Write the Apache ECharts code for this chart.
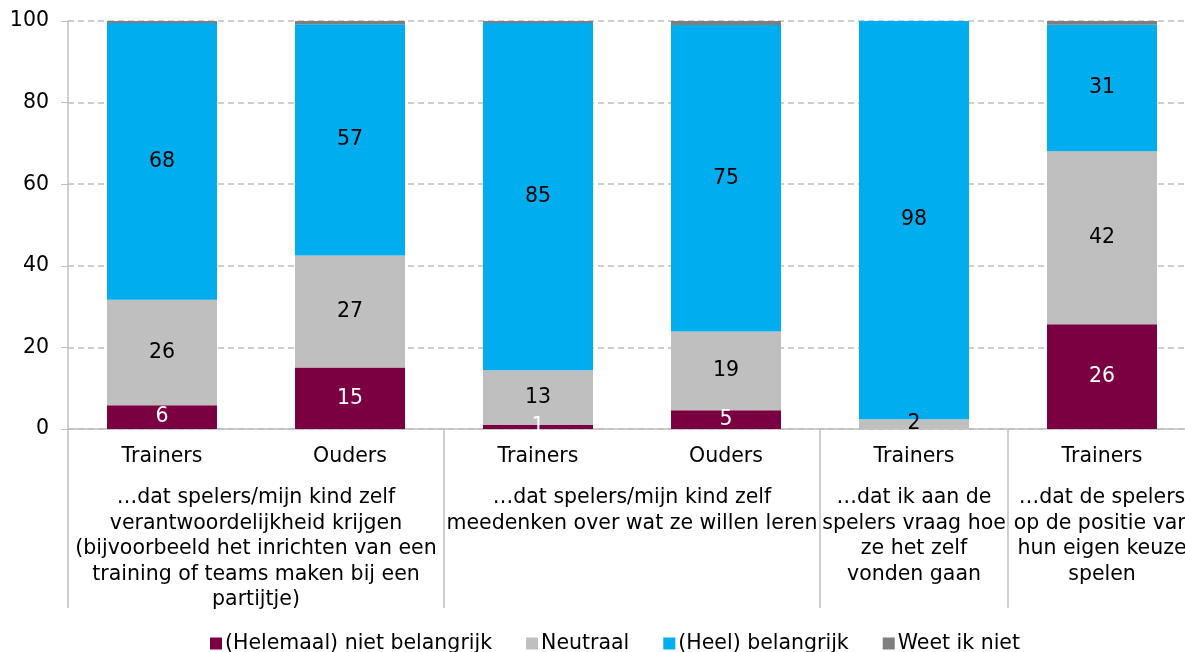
<!DOCTYPE html>
<html>
<head>
<meta charset="utf-8">
<script src="https://cdn.jsdelivr.net/npm/echarts@6/dist/echarts.min.js"></script>
<style>
  html, body { margin: 0; padding: 0; background: #fff; overflow: hidden; }
  /* de grafiek loopt rechts iets buiten beeld, net als het origineel */
  #chart { width: 1196px; height: 652px; }
</style>
</head>
<body>
<div id="chart"></div>
<script>
// categorieen (eerste niveau)
const respondents = ['Trainers', 'Ouders', 'Trainers', 'Ouders', 'Trainers', 'Trainers']
// groepen (tweede niveau) en het aantal balken per groep
const groupLabels = [
  '…dat spelers/mijn kind zelf\nverantwoordelijkheid krijgen\n(bijvoorbeeld het inrichten van een\ntraining of teams maken bij een\npartijtje)',
  '…dat spelers/mijn kind zelf\nmeedenken over wat ze willen leren',
  '…dat ik aan de\nspelers vraag hoe\nze het zelf\nvonden gaan',
  '…dat de spelers\nop de positie van\nhun eigen keuze\nspelen'
]
const groupSpans = [2, 2, 1, 1]
const yTicks = [0, 20, 40, 60, 80, 100]

// percentages per antwoord
const nietBelangrijk = [5.8, 15.1, 1.0, 4.6, 0, 25.7]
const neutraal = [25.9, 27.4, 13.4, 19.3, 2.4, 42.4]
const belangrijk = [67.8, 56.7, 85.1, 75.1, 97.6, 31.0]
const weetNiet = [0.5, 0.8, 0.5, 1.0, 0, 0.9]

const FONT = 'DejaVu Sans'
const FS = 20.5

// grenzen en middens van de groepen op de hulp-as
let groupEdges = [0]
let groupCenters = []
groupSpans.forEach(s => {
  let start = groupEdges[groupEdges.length - 1]
  groupCenters.push(start + s / 2)
  groupEdges.push(start + s)
})

function roundLabel (p) {
  let v = Math.round(p.value)
  return v === 0 ? '' : String(v)
}

function barSeries (name, data, color, labelColor, showLabel) {
  return {
    name: name,
    type: 'bar',
    stack: 'totaal',
    barWidth: '58.5%',
    data: data,
    itemStyle: { color: color },
    label: {
      show: showLabel,
      position: 'inside',
      formatter: roundLabel,
      color: labelColor,
      fontFamily: FONT,
      fontSize: FS
    },
    emphasis: { disabled: true }
  }
}

const chart = echarts.init(document.getElementById('chart'))
chart.setOption({
  animation: false,
  textStyle: { fontFamily: FONT },
  grid: { left: 68, right: 0, top: 21, bottom: 223, containLabel: false },
  legend: {
    left: 205,
    top: 628,
    itemWidth: 12,
    itemHeight: 12,
    itemGap: 34,
    icon: 'rect',
    textStyle: { fontFamily: FONT, fontSize: FS, color: '#000', padding: [0, 0, 0, -2] },
    data: ['(Helemaal) niet belangrijk', 'Neutraal', '(Heel) belangrijk', 'Weet ik niet']
  },
  xAxis: [
    {
      type: 'category',
      data: respondents,
      position: 'bottom',
      axisLine: { lineStyle: { color: '#bfbfbf', width: 1.5 } },
      axisTick: { length: 38, alignWithLabel: false, lineStyle: { color: '#bfbfbf', width: 1.5 } },
      axisLabel: { color: '#000', fontFamily: FONT, fontSize: FS, margin: 17 }
    },
    {
      type: 'value',
      min: 0,
      max: respondents.length,
      position: 'bottom',
      splitLine: { show: false },
      axisLine: { show: false },
      axisTick: {
        show: true,
        customValues: groupEdges,
        length: 179,
        lineStyle: { color: '#bfbfbf', width: 1.5 }
      },
      axisLabel: {
        customValues: groupCenters,
        formatter: v => {
          let i = groupCenters.indexOf(v)
          return i >= 0 ? groupLabels[i] : ''
        },
        color: '#000',
        fontFamily: FONT,
        fontSize: FS,
        lineHeight: 25.5,
        margin: 56,
        verticalAlign: 'top'
      }
    }
  ],
  yAxis: {
    type: 'value',
    min: yTicks[0],
    max: yTicks[yTicks.length - 1],
    interval: 20,
    axisLine: { show: true, lineStyle: { color: '#bfbfbf', width: 1.5 } },
    axisTick: { show: true, length: 7, lineStyle: { color: '#bfbfbf' } },
    axisLabel: { color: '#000', fontFamily: FONT, fontSize: FS, margin: 19 },
    splitLine: { lineStyle: { color: '#bfbfbf', type: [6, 4], width: 1.5 } }
  },
  series: [
    barSeries('(Helemaal) niet belangrijk', nietBelangrijk, '#7b0041', '#fff', true),
    barSeries('Neutraal', neutraal, '#bfbfbf', '#000', true),
    barSeries('(Heel) belangrijk', belangrijk, '#00adee', '#000', true),
    barSeries('Weet ik niet', weetNiet, '#7f7f7f', '#000', false)
  ]
})
</script>
</body>
</html>
